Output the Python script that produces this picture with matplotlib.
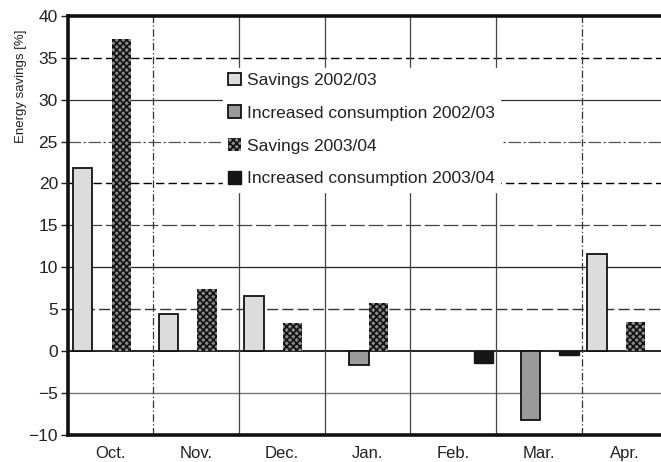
import numpy as np
import matplotlib
matplotlib.use("Agg")
from matplotlib import pyplot as plt

plt.rcParams['font.family'] = ['Liberation Sans', 'DejaVu Sans']
plt.rcParams['hatch.linewidth'] = 1.2

# data (None = no bar that month)
months = ["Oct.", "Nov.", "Dec.", "Jan.", "Feb.", "Mar.", "Apr."]
savings_0203 = [21.8, 4.4, 6.5, None, None, None, 11.6]
increase_0203 = [None, None, None, -1.7, None, -8.3, None]
savings_0304 = [37.3, 7.4, 3.3, 5.7, None, None, 3.4]
increase_0304 = [None, None, None, None, -1.5, -0.5, None]
yticks = [-10, -5, 0, 5, 10, 15, 20, 25, 30, 35, 40]


def present(values, offset):
    # keep only the months that actually have a bar
    xs = [i + offset for i, v in enumerate(values) if v is not None]
    ys = [v for v in values if v is not None]
    return xs, ys


fig = plt.figure(figsize=(6.61, 4.62), dpi=100)
ax = fig.add_axes([0.1024, 0.0593, 0.8976, 0.906])

x = np.arange(len(months))
w = 0.225

# horizontal grid, mixed styles like the scanned original
hstyles = {35: ("black", (0, (6, 3)), 1.0), 30: ("#333333", "-", 0.9),
           25: ("#555555", (0, (10, 2, 2, 2)), 0.9), 20: ("black", (0, (6, 3)), 1.0),
           15: ("#444444", (0, (12, 3)), 0.9), 10: ("#222222", "-", 0.9),
           5: ("#333333", (0, (8, 3)), 1.0), 0: ("black", "-", 1.2),
           -5: ("#777777", "-", 1.0)}
for yv, (c, ls, lw) in hstyles.items():
    ax.axhline(yv, color=c, linestyle=ls, linewidth=lw, zorder=1)

for i in range(1, len(months)):
    if i == 1 or i == 6:
        ax.axvline(i - 0.5, color="#333333", linestyle=(0, (6, 2, 1, 2)), linewidth=0.9, zorder=1)
    else:
        ax.axvline(i - 0.5, color="#444444", linestyle="-", linewidth=0.9, zorder=1)

xs, ys = present(savings_0203, -0.325)
ax.bar(xs, ys, w, color="#dcdcdc", edgecolor="#111111",
       linewidth=1.3, label="Savings 2002/03", zorder=3)
xs, ys = present(increase_0203, -0.10)
ax.bar(xs, ys, w, color="#9a9a9a", edgecolor="#111111",
       linewidth=1.3, label="Increased consumption 2002/03", zorder=3)
xs, ys = present(savings_0304, 0.125)
ax.bar(xs, ys, w, color="#8a8a8a", edgecolor="#111111",
       hatch="xxxxx", linewidth=0, label="Savings 2003/04", zorder=3)
xs, ys = present(increase_0304, 0.35)
ax.bar(xs, ys, w, color="#161616", edgecolor="#161616",
       linewidth=1.0, label="Increased consumption 2003/04", zorder=3)

ax.set_xlim(-0.5, 6.423)
ax.set_ylim(-10, 40)
ax.set_yticks(yticks)
ax.set_yticklabels([str(v).replace("-", "\u2212") for v in yticks])
ax.set_xticks(x)
ax.set_xticklabels(months)
ax.tick_params(axis="x", length=0, pad=8, labelsize=12, colors="#222222")
ax.tick_params(axis="y", length=5, width=1.0, pad=2, labelsize=12.5, colors="#222222")

for s in ["left", "bottom", "top"]:
    ax.spines[s].set_linewidth(2.6)
    ax.spines[s].set_color("#111111")
ax.spines["right"].set_visible(False)

leg = ax.legend(loc="upper left", bbox_to_anchor=(0.262, 0.877), fontsize=12.5,
                frameon=True, fancybox=False, framealpha=1, edgecolor="white",
                facecolor="white", handlelength=0.75, handleheight=0.75,
                handletextpad=0.3, labelspacing=1.0, borderpad=0.3,
                borderaxespad=0)
for t in leg.get_texts():
    t.set_color("#222222")
leg.set_zorder(2)

fig.text(21.5 / 661, 1 - 86.5 / 462, "Energy savings [%]", rotation=90,
         ha="center", va="center", fontsize=9.5, color="#222222")

fig.savefig("out.png", dpi=100)
